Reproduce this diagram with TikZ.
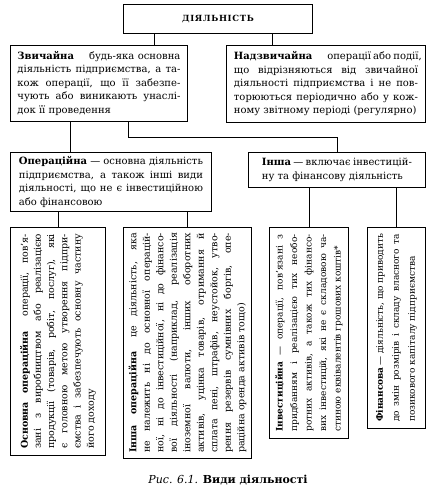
\documentclass[tikz,border=0pt]{standalone}
\usepackage{fontspec}
\setmainfont{DejaVu Serif}
\usepackage{graphicx}
\newcommand{\jl}[1]{\makebox[\linewidth][s]{#1}\par}
\tikzset{
 box/.style={draw, line width=0.9pt, inner sep=0pt, anchor=north west, align=left},
 conn/.style={line width=0.9pt},
}
\begin{document}
\begin{tikzpicture}[x=1pt,y=-1pt]
\useasboundingbox (0,0) rectangle (437,493);
\node[box, minimum width=189pt, minimum height=29pt] (top) at (123,4)
 {\fontsize{8.5}{10}\selectfont\bfseries\addfontfeature{LetterSpace=8}ДІЯЛЬНІСТЬ};
\node[box, minimum width=177pt, minimum height=76pt] (zv) at (10,45)
 {\parbox{163pt}{\fontsize{10}{13.5}\selectfont
 \jl{\textbf{Звичайна}\hspace{1.5em}будь-яка основна}
 \jl{діяльність підприємства, а та-}
 \jl{кож операції, що її забезпе-}
 \jl{чують або виникають унаслі-}
 док її проведення}};
\node[box, minimum width=199pt, minimum height=77pt] (nd) at (226,45)
 {\parbox{184pt}{\fontsize{10}{13.5}\selectfont
 \jl{\textbf{Надзвичайна}\hspace{1.5em}операції або події,}
 \jl{що відрізняються від звичайної}
 \jl{діяльності підприємства і не пов-}
 \jl{торюються періодично або у кож-}
 ному звітному періоді (регулярно)}};
\node[box, minimum width=201pt, minimum height=59pt] (op) at (10,152)
 {\parbox{184pt}{\fontsize{10}{13.5}\selectfont
 \jl{\textbf{Операційна} — основна діяльність}
 \jl{підприємства, а також інші види}
 \jl{діяльності, що не є інвестиційною}
 або фінансовою}};
\node[box, minimum width=177pt, minimum height=35pt] (in) at (248,152)
 {\parbox{150pt}{\fontsize{10}{13.5}\selectfont
 \jl{\textbf{Інша} — включає інвестицій-}
 ну та фінансову діяльність}};
\node[box, minimum width=95pt, minimum height=228pt] (b1) at (10,227)
 {\rotatebox{90}{\parbox{215pt}{\fontsize{9.5}{13.2}\selectfont
 \jl{\textbf{Основна операційна}\hspace{1.5em}операції, пов’я-}
 \jl{зані з виробництвом або реалізацією}
 \jl{продукції (товарів, робіт, послуг), які}
 \jl{є головною метою утворення підпри-}
 \jl{ємства і забезпечують основну частину}
 його доходу}}};
\node[box, minimum width=128pt, minimum height=231pt] (b2) at (123,227)
 {\rotatebox{90}{\parbox{220pt}{\fontsize{9.5}{13.5}\selectfont
 \jl{\textbf{Інша операційна}\hspace{1.5em}це діяльність, яка}
 \jl{не належить ні до основної операцій-}
 \jl{ної, ні до інвестиційної, ні до фінансо-}
 \jl{вої діяльності (наприклад, реалізація}
 \jl{іноземної валюти, інших оборотних}
 \jl{активів, уцінка товарів, отримання й}
 \jl{сплата пені, штрафів, неустойок, утво-}
 \jl{рення резервів сумнівних боргів, опе-}
 раційна оренда активів тощо)}}};
\node[box, minimum width=79pt, minimum height=211pt] (b3) at (269,227)
 {\rotatebox{90}{\parbox{197pt}{\fontsize{9}{14.5}\selectfont
 \jl{\textbf{Інвестиційна} — операції, пов’язані з}
 \jl{придбанням і реалізацією тих необо-}
 \jl{ротних активів, а також тих фінансо-}
 \jl{вих інвестицій, які не є складовою ча-}
 стиною еквівалентів грошових коштів*}}};
\node[box, minimum width=58pt, minimum height=201pt] (b4) at (367,227)
 {\rotatebox{90}{\parbox{188pt}{\fontsize{9}{16}\selectfont
 \jl{\textbf{Фінансова} — діяльність, що приводить}
 \jl{до змін розмірів і складу власного та}
 позикового капіталу підприємства}}};
\node (cap) at (228,480) {\fontsize{11}{13}\selectfont\textit{Рис. 6.1.} \textbf{Види діяльності}};
\coordinate (xa) at (154,0);
\coordinate (xb) at (272,0);
\coordinate (xc) at (70,0);
\coordinate (xd) at (128,0);
\coordinate (xe) at (337,0);
\coordinate (ym) at (0,137);
\draw[conn] (xa |- top.south) -- (xa |- zv.north);
\draw[conn] (xb |- top.south) -- (xb |- nd.north);
\draw[conn] (xc |- zv.south) -- (xc |- op.north);
\draw[conn] (xd |- zv.south) -- (xd |- ym) -| (xe |- in.north);
\draw[conn] (b1.north |- op.south) -- (b1.north);
\draw[conn] (b2.north |- op.south) -- (b2.north);
\draw[conn] (b3.north |- in.south) -- (b3.north);
\draw[conn] (b4.north |- in.south) -- (b4.north);
\end{tikzpicture}
\end{document}
